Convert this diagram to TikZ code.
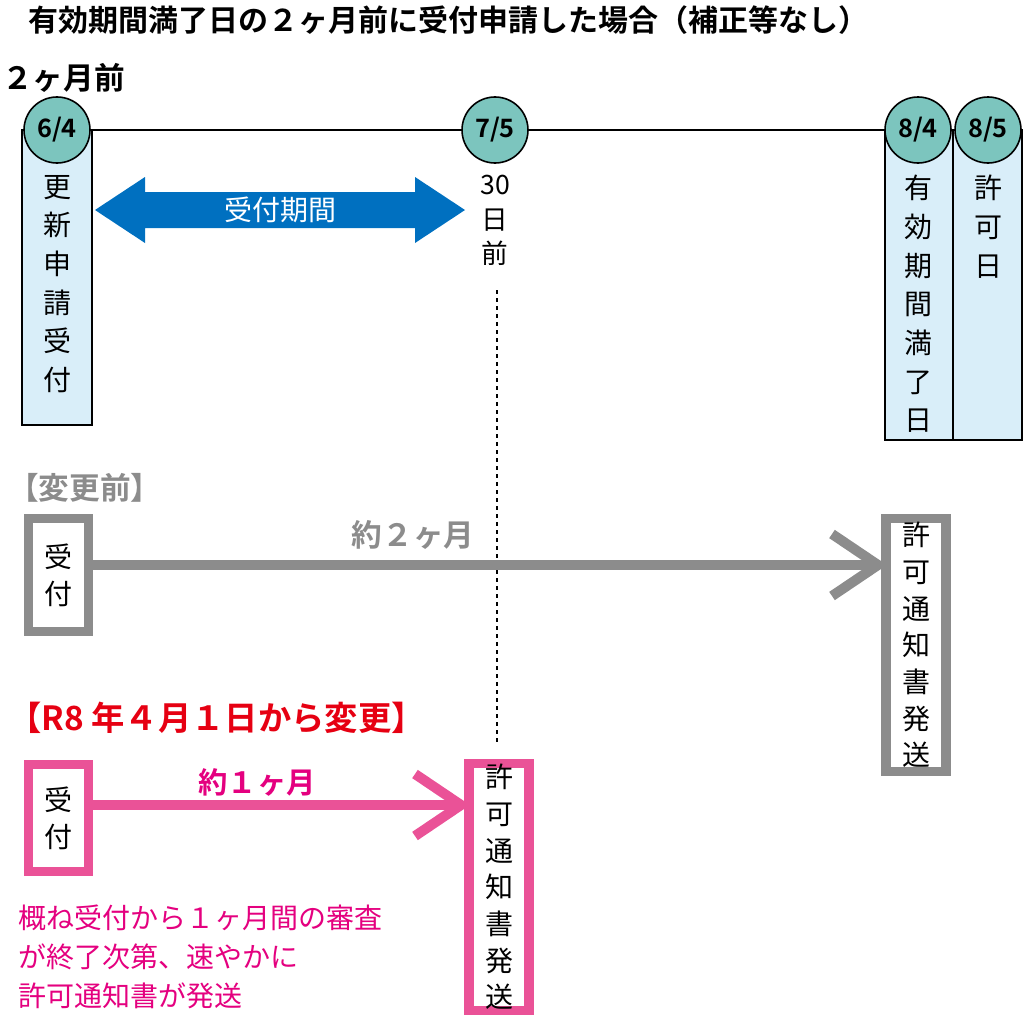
\documentclass[tikz,border=0pt]{standalone}
\usepackage{fontspec}
\setmainfont{Noto Sans CJK JP}
\newfontfamily\jpb{Noto Sans CJK JP Bold}
\definecolor{teal1}{HTML}{7CC5BE}
\definecolor{lblue}{HTML}{D9EEF9}
\definecolor{dblue}{HTML}{0070C0}
\definecolor{gry}{HTML}{8C8C8C}
\definecolor{pnk}{HTML}{EA5297}
\definecolor{mag}{HTML}{E4007F}
\definecolor{rd}{HTML}{E60012}
\tikzset{
 circ/.style={circle,draw=black,line width=1.2pt,fill=teal1,minimum size=49.5pt,inner sep=0pt,font=\jpb\fontsize{19}{19}\selectfont},
 lrect/.style={draw=black,line width=1pt,fill=lblue},
 vtxt/.style={align=center,font=\fontsize{21}{29}\selectfont,inner sep=0pt,anchor=north},
 btxt/.style={align=center,font=\fontsize{21}{27.5}\selectfont,inner sep=0pt},
 gbox/.style={draw=gry,line width=7pt},
 pbox/.style={draw=pnk,line width=7pt},
}
\begin{document}
\begin{tikzpicture}[x=0.75pt,y=-0.75pt]
\useasboundingbox (0,0) rectangle (1024,1024);
\node[anchor=west,font=\jpb\fontsize{22.5}{22.5}\selectfont,inner sep=0pt] (title) at (28,20) {有効期間満了日の２ヶ月前に受付申請した場合（補正等なし）};
\node[anchor=west,font=\jpb\fontsize{23}{23}\selectfont,inner sep=0pt] (two) at (2,78) {２ヶ月前};
% rects
\draw[lrect] (22,130) rectangle (92,425);
\draw[lrect] (885,130) rectangle (953,440);
\draw[lrect] (953,130) rectangle (1022,440);
\coordinate (L) at (57,130); \coordinate (R) at (988,130);
\draw[line width=1.2pt] (L) -- (R);
\node[circ] (c1) at (57,130) {6/4};
\node[circ] (c2) at (495,130) {7/5};
\node[circ] (c3) at (918,130) {8/4};
\node[circ] (c4) at (988,130) {8/5};
\node[vtxt] (t1) at (57,175) {更\\新\\申\\請\\受\\付};
\node[vtxt] (t3) at (918,175) {有\\効\\期\\間\\満\\了\\日};
\node[vtxt] (t4) at (988,175) {許\\可\\日};
\node[vtxt,font=\fontsize{20}{26}\selectfont] (t2) at (495,175) {30\\日\\前};
% blue arrow
\fill[dblue] (95,210) -- (145,177) -- (145,192) -- (415,192) -- (415,177) -- (465,210) -- (415,243) -- (415,228) -- (145,228) -- (145,243) -- cycle;
\node[text=white,font=\fontsize{21}{21}\selectfont] (bat) at (280,210) {受付期間};
\coordinate (d1) at (497,290); \coordinate (d2) at (497,745);
\draw[dashed,line width=0.8pt] (d1) -- (d2);
% before
\node[anchor=west,text=gry,font=\jpb\fontsize{23}{23}\selectfont,inner sep=0pt] (bef) at (8,488) {【変更前】};
\node[gbox,minimum width=45pt,minimum height=85pt,btxt] (g1) at (58.5,575) {受\\付};
\node[gbox,minimum width=45pt,minimum height=190pt,btxt] (g2) at (916,645) {許\\可\\通\\知\\書\\発\\送};
\draw[draw=gry,line width=7.5pt] (g1.east |- 0,565) -- (878,565);
\coordinate (ga) at (878,565);
\draw[draw=gry,line width=7.5pt,line join=miter] (832,534) -- (ga) -- (832,596);
\node[text=gry,font=\jpb\fontsize{23}{23}\selectfont] (g2t) at (413,535) {約２ヶ月};
% after
\node[anchor=west,text=rd,font=\jpb\fontsize{25}{25}\selectfont,inner sep=0pt] (aft) at (8,718) {【R8 年４月１日から変更】};
\node[pbox,minimum width=45pt,minimum height=80pt,btxt] (p1) at (58.5,818) {受\\付};
\node[pbox,minimum width=45pt,minimum height=185pt,btxt] (p2) at (499,887) {許\\可\\通\\知\\書\\発\\送};
\draw[draw=pnk,line width=7.5pt] (p1.east |- 0,805) -- (461,805);
\coordinate (pa) at (461,805);
\draw[draw=pnk,line width=7.5pt,line join=miter] (415,774) -- (pa) -- (415,836);
\node[text=mag,font=\jpb\fontsize{22}{22}\selectfont] (p2t) at (257,782) {約１ヶ月};
\node[anchor=north west,align=left,text=mag,font=\fontsize{21}{29}\selectfont,inner sep=0pt] (note) at (18,905) {概ね受付から１ヶ月間の審査\\が終了次第、速やかに\\許可通知書が発送};
\end{tikzpicture}
\end{document}
